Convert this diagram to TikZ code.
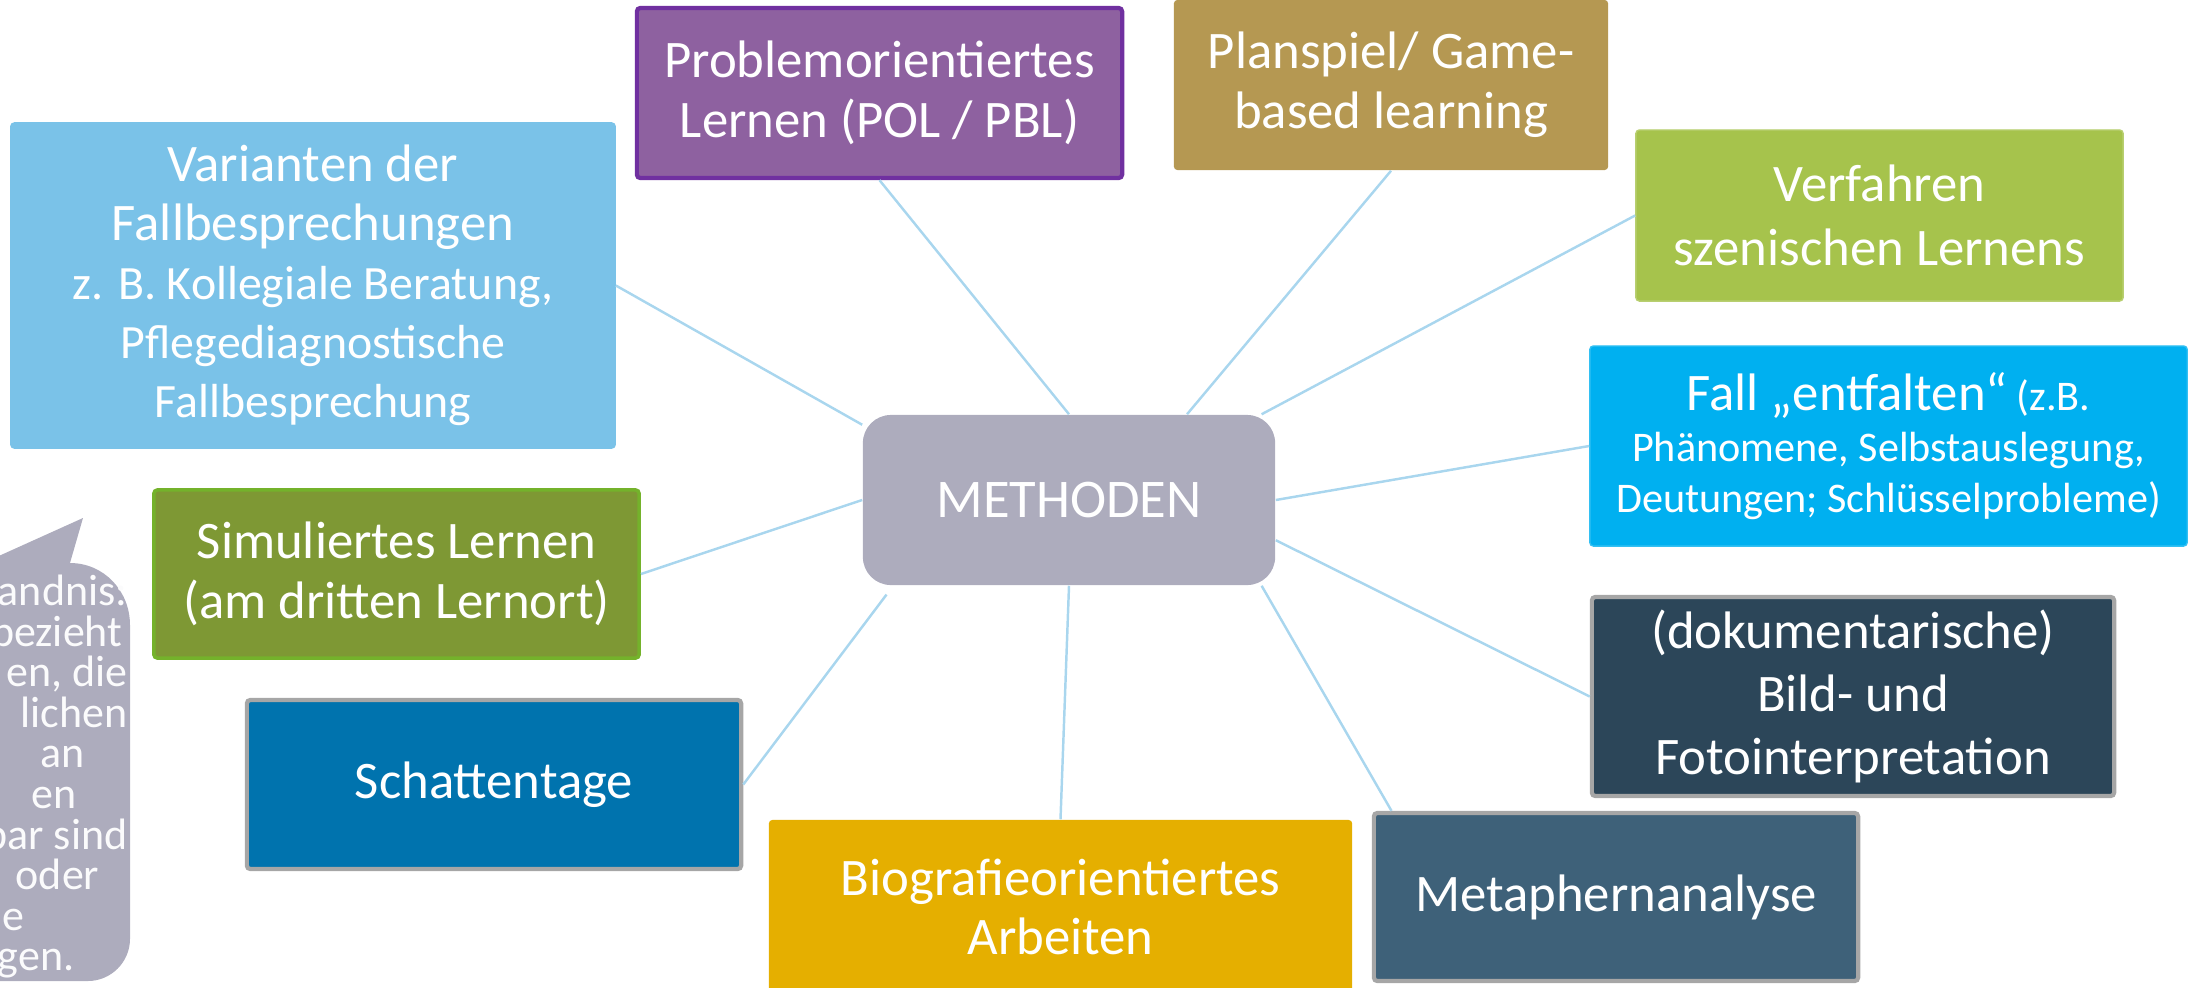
\documentclass[tikz,border=0pt]{standalone}
\usepackage{fontspec}
\setmainfont{Carlito}
\usepackage{tikz}

\definecolor{methgrey}{HTML}{ADACBD}
\definecolor{linkblue}{HTML}{A9D6EE}
\definecolor{skyfill}{HTML}{7AC2E8}
\definecolor{purplefill}{HTML}{8E61A0}
\definecolor{purpleline}{HTML}{7030A0}
\definecolor{tanfill}{HTML}{B59852}
\definecolor{limefill}{HTML}{A6C34C}
\definecolor{cyanfill}{HTML}{00B0F0}
\definecolor{navyfill}{HTML}{2C4659}
\definecolor{slatefill}{HTML}{3E6179}
\definecolor{goldfill}{HTML}{E5AF00}
\definecolor{bluefill}{HTML}{0073AE}
\definecolor{olivefill}{HTML}{7E9834}
\definecolor{oliveline}{HTML}{74B22B}
\definecolor{boxgrey}{HTML}{A6A6A6}

\tikzset{
  methbox/.style={rectangle, rounded corners=1pt, text=white, align=center, inner sep=0pt,
                  font=\fontsize{15}{17}\selectfont},
  link/.style={-, draw=linkblue, line width=0.7pt},
  bubbletext/.style={anchor=base east, inner sep=0pt, text=white!95!methgrey,
                     font=\fontsize{12.5}{13}\selectfont},
}

\begin{document}
\begin{tikzpicture}[x=0.01cm, y=-0.01cm]

	\useasboundingbox (0,0) rectangle (2197,987);
	\clip (0,0) rectangle (2197,987);

	% speech bubble, cut by the left edge
	\fill[methgrey] (-50,981) -- (88,981) .. controls (111,981) and (130,962) .. (130,939)
	    -- (130,625) .. controls (130,591) and (104,563) .. (70,563)
	    -- (83,518) -- (-50,578) -- cycle;
	\node[bubbletext] (b1)  at (128,605) {andnis:};
	\node[bubbletext] (b2)  at (123,646) {bezieht};
	\node[bubbletext] (b3)  at (128,686) {en, die};
	\node[bubbletext] (b4)  at (128,727) {lichen};
	\node[bubbletext] (b5)  at (85,767)  {an};
	\node[bubbletext] (b6)  at (77,808)  {en};
	\node[bubbletext] (b7)  at (128,849) {bar sind};
	\node[bubbletext] (b8)  at (100,889) {oder};
	\node[bubbletext] (b9)  at (25,930)  {e};
	\node[bubbletext] (b10) at (75,970)  {gen.};

	\node[methbox, fill=methgrey, rounded corners=0.28cm, minimum width=4.12cm, minimum height=1.70cm,
	      font=\fontsize{15.5}{17}\selectfont] (methoden) at (1069,500) {METHODEN};

	\node[methbox, fill=skyfill, draw=skyfill, minimum width=6.04cm, minimum height=3.25cm,
	      font=\fontsize{15}{16.8}\selectfont] (variante) at (313,285.5)
	      {Varianten der\\ Fallbesprechungen\\ {\fontsize{13.6}{16.8}\selectfont z. B. Kollegiale Beratung,}\\
	       {\fontsize{13.6}{16.8}\selectfont Pflegediagnostische}\\ {\fontsize{13.6}{16.8}\selectfont Fallbesprechung}};
	\node[methbox, fill=purplefill, draw=purpleline, line width=1.2pt, minimum width=4.85cm, minimum height=1.70cm]
	      (problem) at (879.5,93) {Problemorientiertes\\ Lernen (POL / PBL)};
	\node[methbox, fill=tanfill, minimum width=4.34cm, minimum height=1.70cm]
	      (planspiel) at (1391,85) {Planspiel/ Game-\\ based learning};
	\node[methbox, fill=limefill, draw=limefill!80!white, minimum width=4.87cm, minimum height=1.71cm,
	      font=\fontsize{15}{18}\selectfont] (verfahren) at (1879.5,215.5) {Verfahren\\ szenischen Lernens};
	\node[methbox, fill=cyanfill, draw=cyanfill!80!white, minimum width=5.97cm, minimum height=2.00cm,
	      font=\fontsize{12}{14.5}\selectfont] (fall) at (1888.5,446)
	      {{\fontsize{15}{14.5}\selectfont Fall „entfalten“} (z.B.\\ Phänomene, Selbstauslegung,\\ Deutungen; Schlüsselprobleme)};
	\node[methbox, fill=navyfill, draw=boxgrey, line width=1.2pt, minimum width=5.22cm, minimum height=1.99cm,
	      font=\fontsize{15}{18}\selectfont] (doku) at (1853,696.5) {(dokumentarische)\\ Bild- und\\ Fotointerpretation};
	\node[methbox, fill=slatefill, draw=boxgrey, line width=1.2pt, minimum width=4.84cm, minimum height=1.68cm]
	      (metapher) at (1616,897) {Metaphernanalyse};
	\node[methbox, fill=goldfill, minimum width=5.83cm, minimum height=1.74cm]
	      (biografie) at (1060.5,907) {Biografieorientiertes\\ Arbeiten};
	\node[methbox, fill=bluefill, draw=boxgrey, line width=1.2pt, minimum width=4.94cm, minimum height=1.69cm]
	      (schatten) at (494,784.5) {Schattentage};
	\node[methbox, fill=olivefill, draw=oliveline, line width=1pt, minimum width=4.85cm, minimum height=1.68cm]
	      (simuliert) at (396.5,574) {Simuliertes Lernen\\ (am dritten Lernort)};

	\path[link] (variante.east) edge (methoden.160);
	\path[link] (problem.south) edge (methoden.north);
	\path[link] (planspiel.south) edge (methoden.36);
	\path[link] (verfahren.west) edge (methoden.24);
	\path[link] (fall.west) edge (methoden.east);
	\path[link] (doku.west) edge (methoden.349);
	\path[link] (metapher.159) edge (methoden.336);
	\path[link] (biografie.north) edge (methoden.south);
	\path[link] (schatten.east) edge[shorten >=0.11cm] (methoden.206);
	\path[link] (simuliert.east) edge (methoden.west);
\end{tikzpicture}
\end{document}
